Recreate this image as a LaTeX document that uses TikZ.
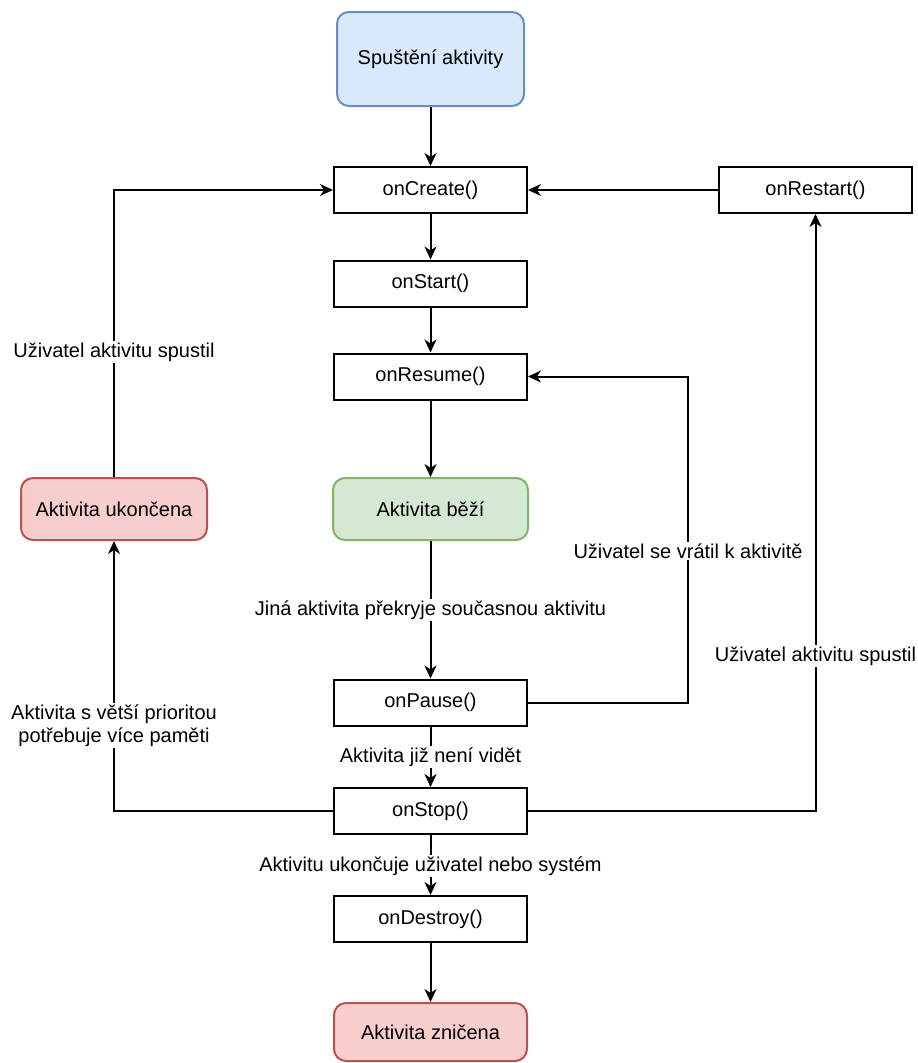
\documentclass[tikz,border=0pt]{standalone}
\usepackage{fontspec}
\setmainfont{Liberation Sans}
\usetikzlibrary{arrows.meta}
\definecolor{bluefill}{HTML}{DAE8FC}
\definecolor{bluedraw}{HTML}{6C8EBF}
\definecolor{greenfill}{HTML}{D5E8D4}
\definecolor{greendraw}{HTML}{82B366}
\definecolor{redfill}{HTML}{F8CECC}
\definecolor{reddraw}{HTML}{B85450}
\begin{document}
\begin{tikzpicture}[x=1pt,y=-1pt,
  font=\fontsize{20}{23}\selectfont,
  line width=2pt,
  box/.style={draw=black, fill=white, minimum width=193pt, minimum height=46pt, inner sep=0pt},
  rbox/.style={draw, rounded corners=12pt, minimum width=193pt, minimum height=62pt, inner sep=0pt},
  conn/.style={draw=black, -{Stealth[length=13pt,width=12pt,inset=4pt]}},
  lbl/.style={fill=white, inner sep=1.5pt, align=center}]
\useasboundingbox (0,0) rectangle (918,1063);
\fill[white] (0,0) rectangle (918,1063);

\node[rbox, fill=bluefill, draw=bluedraw, minimum width=187pt, minimum height=94pt] (start) at (430.5,59) {Spuštění aktivity};
\node[box] (onCreate) at (430.5,190) {onCreate()};
\node[box] (onRestart) at (815.5,190) {onRestart()};
\node[box] (onStart) at (430.5,283.5) {onStart()};
\node[box] (onResume) at (430.5,376.5) {onResume()};
\node[rbox, fill=greenfill, draw=greendraw, minimum width=195pt] (running) at (430.5,509) {Aktivita běží};
\node[rbox, fill=redfill, draw=reddraw, minimum width=186pt] (ended) at (114,509) {Aktivita ukončena};
\node[box] (onPause) at (430.5,702.5) {onPause()};
\node[box] (onStop) at (430.5,811) {onStop()};
\node[box] (onDestroy) at (430.5,919) {onDestroy()};
\node[rbox, fill=redfill, draw=reddraw, minimum height=58pt] (destroyed) at (430.5,1032) {Aktivita zničena};

\coordinate (rr) at (688,0);

\draw[conn] (start) -- (onCreate);
\draw[conn] (onCreate) -- (onStart);
\draw[conn] (onStart) -- (onResume);
\draw[conn] (onResume) -- (running);
\draw[conn] (running) -- (onPause);
\draw[conn] (onPause) -- (onStop);
\draw[conn] (onStop) -- (onDestroy);
\draw[conn] (onDestroy) -- (destroyed);
\draw[conn] (onRestart.west) -- (onCreate.east);
\draw[conn] (onPause.east) -| (rr |- onResume.east) -- (onResume.east);
\draw[conn] (onStop.east) -| (onRestart.south);
\draw[conn] (onStop.west) -| (ended.south);
\draw[conn] (ended.north) |- (onCreate.west);

\node[lbl] (l1) at (114,352) {Uživatel aktivitu spustil};
\node[lbl] (l2) at (688,551) {Uživatel se vrátil k aktivitě};
\node[lbl] (l3) at (815.5,656) {Uživatel aktivitu spustil};
\node[lbl] (l4) at (114,725.5) {Aktivita s větší prioritou\\potřebuje více paměti};
\node[lbl] (l5) at (430.5,610) {Jiná aktivita překryje současnou aktivitu};
\node[lbl] (l6) at (430.5,757) {Aktivita již není vidět};
\node[lbl] (l7) at (430.5,866) {Aktivitu ukončuje uživatel nebo systém};
\end{tikzpicture}
\end{document}
